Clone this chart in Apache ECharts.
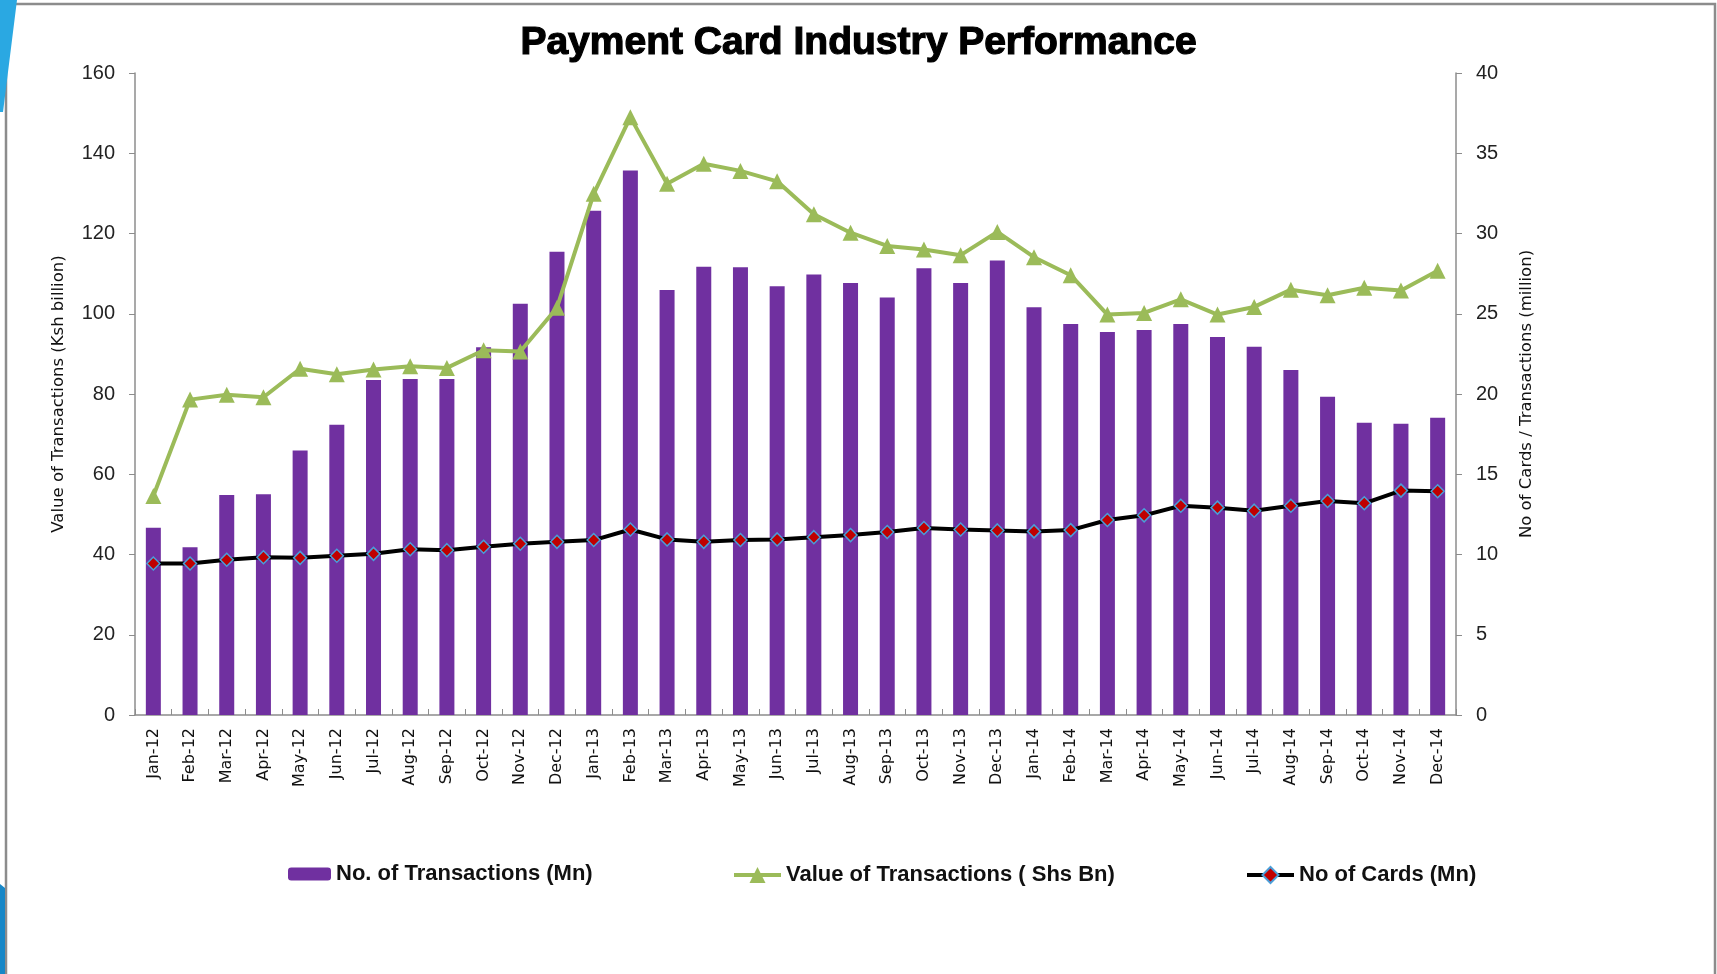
<!DOCTYPE html>
<html>
<head>
<meta charset="utf-8">
<script src="https://cdn.jsdelivr.net/npm/echarts@6/dist/echarts.min.js"></script>
<style>
html,body{margin:0;padding:0;background:#fff;}
#chart{width:1717px;height:974px;}
</style>
</head>
<body>
<div id="chart"></div>
<script>
const categories = ["Jan-12","Feb-12","Mar-12","Apr-12","May-12","Jun-12","Jul-12","Aug-12","Sep-12","Oct-12","Nov-12","Dec-12",
  "Jan-13","Feb-13","Mar-13","Apr-13","May-13","Jun-13","Jul-13","Aug-13","Sep-13","Oct-13","Nov-13","Dec-13",
  "Jan-14","Feb-14","Mar-14","Apr-14","May-14","Jun-14","Jul-14","Aug-14","Sep-14","Oct-14","Nov-14","Dec-14"];
// No. of Transactions (Mn) - right axis
const transactions = [11.66,10.45,13.7,13.76,16.48,18.08,20.88,20.93,20.93,22.92,25.62,28.87,
  31.42,33.92,26.48,27.93,27.89,26.72,27.45,26.91,26.02,27.83,26.91,28.31,
  25.4,24.36,23.86,23.98,24.36,23.55,22.95,21.49,19.83,18.21,18.15,18.52];
// Value of Transactions (Shs Bn) - left axis
const valueTx = [54.6,78.6,79.8,79.2,86.3,84.9,86.1,86.9,86.5,90.9,90.6,101.5,
  129.9,149.0,132.4,137.4,135.6,133.0,124.8,120.2,116.9,116.0,114.6,120.4,
  114.1,109.6,99.8,100.2,103.6,99.8,101.7,106.0,104.6,106.5,105.8,110.7];
// No of Cards (Mn) - right axis
const cards = [9.44,9.44,9.67,9.83,9.79,9.92,10.04,10.33,10.27,10.48,10.67,10.79,
  10.9,11.56,10.94,10.79,10.9,10.94,11.08,11.21,11.4,11.65,11.56,11.5,
  11.44,11.52,12.15,12.44,13.04,12.92,12.73,13.04,13.33,13.19,13.98,13.94];

const chart = echarts.init(document.getElementById('chart'), null, {renderer:'canvas'});
const axisColor = '#8c8c8c';
const labelFont = {fontFamily:'Liberation Sans', fontSize:20, color:'#222'};
const legendText = {fontFamily:'Liberation Sans', fontWeight:'bold', fontSize:22, color:'#111'};

chart.setOption({
  backgroundColor:'#fff',
  animation:false,
  title:{
    text:'Payment Card Industry Performance',
    left:'center', top:19,
    textStyle:{fontFamily:'Liberation Sans', fontWeight:'bold', fontSize:39, color:'#000',
      textBorderColor:'#000', textBorderWidth:1.2}
  },
  graphic:[
    {type:'rect', shape:{x:6,y:4,width:1709,height:1010}, style:{fill:'none', stroke:'#8c8c8c', lineWidth:2.5}, z:-1},
    {type:'polygon', shape:{points:[[0,0],[17,0],[3,112],[0,112]]}, style:{fill:'#2AA8E2'}},
    {type:'polygon', shape:{points:[[0,884],[5,888],[5,974],[0,974]]}, style:{fill:'#1787C7'}}
  ],
  grid:{left:135, right:261, top:73, bottom:259, containLabel:false},
  legend:[
    {data:['No. of Transactions (Mn)'], left:283, top:858, itemWidth:43, itemHeight:13, itemGap:6, textStyle:legendText},
    {data:['Value of Transactions ( Shs Bn)'], left:727, top:859, itemWidth:47, itemHeight:20,
     lineStyle:{width:4}, textStyle:legendText},
    {data:['No of Cards (Mn)'], left:1240, top:859, itemWidth:47, itemHeight:20,
     lineStyle:{width:4}, textStyle:legendText}
  ],
  xAxis:{
    type:'category', data:categories, boundaryGap:true,
    axisLine:{lineStyle:{color:axisColor, width:1.5}},
    axisTick:{show:true, inside:true, length:6, alignWithLabel:false, lineStyle:{color:axisColor}},
    axisLabel:{rotate:90, interval:0, margin:13, fontFamily:'DejaVu Sans', fontSize:16, color:'#111'}
  },
  yAxis:[
    {type:'value', min:0, max:160, interval:20, position:'left',
     name:'Value of Transactions (Ksh billion)', nameLocation:'middle', nameGap:68,
     nameTextStyle:{fontFamily:'DejaVu Sans', fontSize:16.5, color:'#111'},
     axisLine:{show:true, lineStyle:{color:axisColor, width:1.5}},
     axisTick:{show:true, length:6, lineStyle:{color:axisColor}},
     axisLabel:Object.assign({margin:20}, labelFont),
     splitLine:{show:false}},
    {type:'value', min:0, max:40, interval:5, position:'right',
     name:'No of Cards / Transactions (million)', nameLocation:'middle', nameGap:62,
     nameTextStyle:{fontFamily:'DejaVu Sans', fontSize:16.5, color:'#111'},
     axisLine:{show:true, lineStyle:{color:axisColor, width:1.5}},
     axisTick:{show:true, length:6, lineStyle:{color:axisColor}},
     axisLabel:Object.assign({margin:20}, labelFont),
     splitLine:{show:false}}
  ],
  series:[
    {name:'No. of Transactions (Mn)', type:'bar', yAxisIndex:1, data:transactions, barWidth:15,
     itemStyle:{color:'#7030A0'}, z:1},
    {name:'Value of Transactions ( Shs Bn)', type:'line', yAxisIndex:0, data:valueTx,
     symbol:'triangle', symbolSize:16, showAllSymbol:true,
     lineStyle:{color:'#9BBB59', width:4}, itemStyle:{color:'#9BBB59'}, z:3},
    {name:'No of Cards (Mn)', type:'line', yAxisIndex:1, data:cards,
     symbol:'diamond', symbolSize:13, showAllSymbol:true,
     lineStyle:{color:'#000', width:4},
     itemStyle:{color:'#C00000', borderColor:'#4A9ED8', borderWidth:1.5}, z:4}
  ]
});
</script>
</body>
</html>
